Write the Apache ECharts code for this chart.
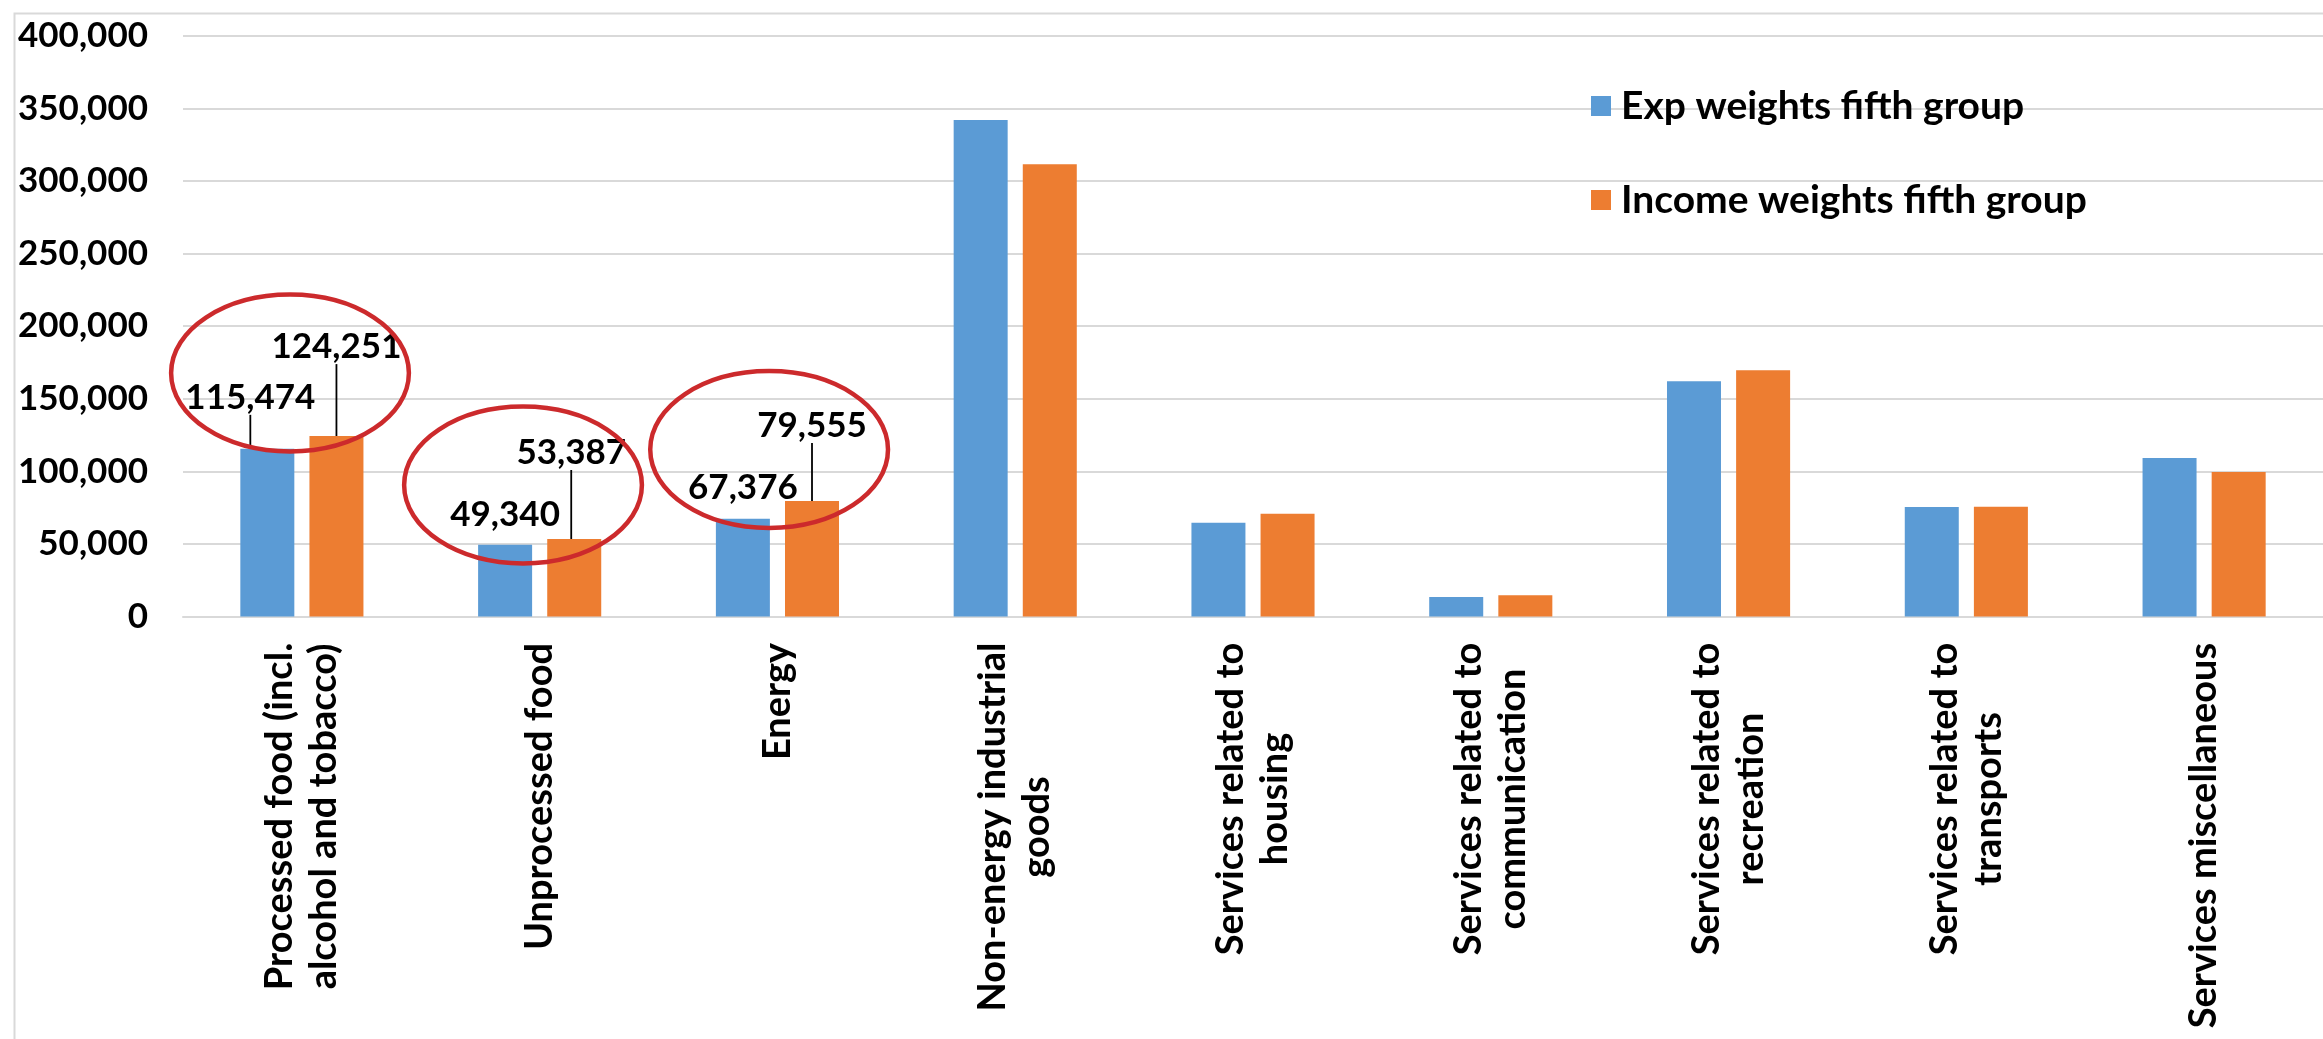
<!DOCTYPE html>
<html><head><meta charset="utf-8">
<script src="https://cdn.jsdelivr.net/npm/echarts@6/dist/echarts.min.js"></script>
<style>html,body{margin:0;padding:0;background:#fff}#c{width:2323px;height:1039px}</style>
</head><body><div id="c"></div>
<script>
// ---- data ----
const categories = [
  "Processed food (incl.\nalcohol and tobacco)",
  "Unprocessed food",
  "Energy",
  "Non-energy industrial\ngoods",
  "Services related to\nhousing",
  "Services related to\ncommunication",
  "Services related to\nrecreation",
  "Services related to\ntransports",
  "Services miscellaneous"
];
const seriesNames = ["Exp weights fifth group", "Income weights fifth group"];
const expWeights    = [115474, 49340, 67376, 342000, 64500, 13400, 162000, 75400, 109100];
const incomeWeights = [124251, 53387, 79555, 311500, 70700, 14600, 169600, 75600, 99500];
const labelledCount = 3;           // only the first three categories carry value labels
const yMax = 400000;
const yInterval = 50000;
// annotation: label shifts (px) for labels pulled out with a leader line
const labelShifts = [
  [[-17, -21], null, null],
  [[0, -59], [-3, -56], [0, -45]]
];
// annotation: red highlight ellipses (centre in data units; dx as fraction of category band)
const highlightEllipses = [
  { cat: 0, value: 167700, dx: -0.05 },
  { cat: 1, value: 90560,  dx: -0.07 },
  { cat: 2, value: 115000, dx: -0.035 }
];
const ellipseHalfHeight = 54000;

// ---- styles ----
const FONT = 'Lato';
const W = 'bold';
const colors = ['#5b9bd5', '#ed7d31'];
const fmt = v => Number(v).toLocaleString('en-US');

// measure category label lines so the lines are centred within each label block
const cv = document.createElement('canvas').getContext('2d');
const catFont = 38;
cv.font = W + ' ' + catFont + 'px ' + FONT;
const rich = {};
categories.forEach((c, i) => {
  const w = Math.max(...c.split('\n').map(l => cv.measureText(l).width));
  rich['c' + i] = { width: Math.ceil(w) + 2, align: 'center', fontSize: catFont, fontWeight: W,
                    fontFamily: FONT, color: '#000', lineHeight: 44 };
});

function makeData(vals, s) {
  return vals.map((v, i) => ({
    value: v,
    label: { show: i < labelledCount },
    labelLine: { show: !!(labelShifts[s][i]) }
  }));
}

const chart = echarts.init(document.getElementById('c'), null, { renderer: 'canvas' });
const seriesCommon = {
  type: 'bar',
  barWidth: 54,
  barGap: '28%',
  label: { position: 'top', distance: 13, fontSize: 35, fontWeight: W, fontFamily: FONT,
           color: '#000', formatter: p => fmt(p.value) },
  labelLine: { lineStyle: { color: '#000', width: 1.8 } },
  labelLayout: p => {
    const s = labelShifts[p.seriesIndex] && labelShifts[p.seriesIndex][p.dataIndex];
    return s ? { dx: s[0], dy: s[1] } : {};
  }
};
chart.setOption({
  animation: false,
  backgroundColor: '#fff',
  color: colors,
  grid: { left: 183, right: -16, top: 35.7, bottom: 422.5, containLabel: false },
  legend: {
    orient: 'vertical', left: 1586, top: 81, itemGap: 54,
    itemWidth: 20, itemHeight: 20, icon: 'rect',
    textStyle: { fontSize: 39, fontWeight: W, fontFamily: FONT, color: '#000',
                 lineHeight: 40, padding: [0, 0, 0, 5] },
    data: seriesNames
  },
  xAxis: {
    type: 'category', data: categories,
    axisLine: { show: true, lineStyle: { color: '#d9d9d9', width: 2 } },
    axisTick: { show: false },
    axisLabel: {
      interval: 0, rotate: 90, margin: 25,
      formatter: (v, i) => v.split('\n').map(l => '{c' + i + '|' + l + '}').join('\n'),
      rich: rich
    }
  },
  yAxis: {
    type: 'value', min: 0, max: yMax, interval: yInterval,
    axisLine: { show: false }, axisTick: { show: false },
    splitLine: { lineStyle: { color: '#d9d9d9', width: 2 } },
    axisLabel: { margin: 35, fontSize: 35, fontWeight: W, fontFamily: FONT, color: '#000',
                 formatter: v => fmt(v) }
  },
  series: [
    Object.assign({ name: seriesNames[0], data: makeData(expWeights, 0) }, seriesCommon),
    Object.assign({ name: seriesNames[1], data: makeData(incomeWeights, 1) }, seriesCommon)
  ],
  graphic: [{
    id: 'frame', type: 'rect', left: 12, top: 11, z: -1,
    shape: { width: 2340, height: 1060 },
    style: { fill: 'none', stroke: '#d9d9d9', lineWidth: 2 }
  }]
});

// ellipses positioned through the chart's own scales
const p0 = chart.convertToPixel({ xAxisIndex: 0, yAxisIndex: 0 }, [0, 0]);
const p1 = chart.convertToPixel({ xAxisIndex: 0, yAxisIndex: 0 }, [1, ellipseHalfHeight]);
const band = p1[0] - p0[0];
const ry = p0[1] - p1[1];
chart.setOption({
  graphic: highlightEllipses.map((e, k) => {
    const c = chart.convertToPixel({ xAxisIndex: 0, yAxisIndex: 0 }, [e.cat, e.value]);
    return {
      id: 'ell' + k, type: 'ellipse', z: 100,
      shape: { cx: c[0] + e.dx * band, cy: c[1], rx: band / 2, ry: ry },
      style: { fill: 'none', stroke: '#cc2a2c', lineWidth: 4.5 }
    };
  })
});
</script>
</body></html>
